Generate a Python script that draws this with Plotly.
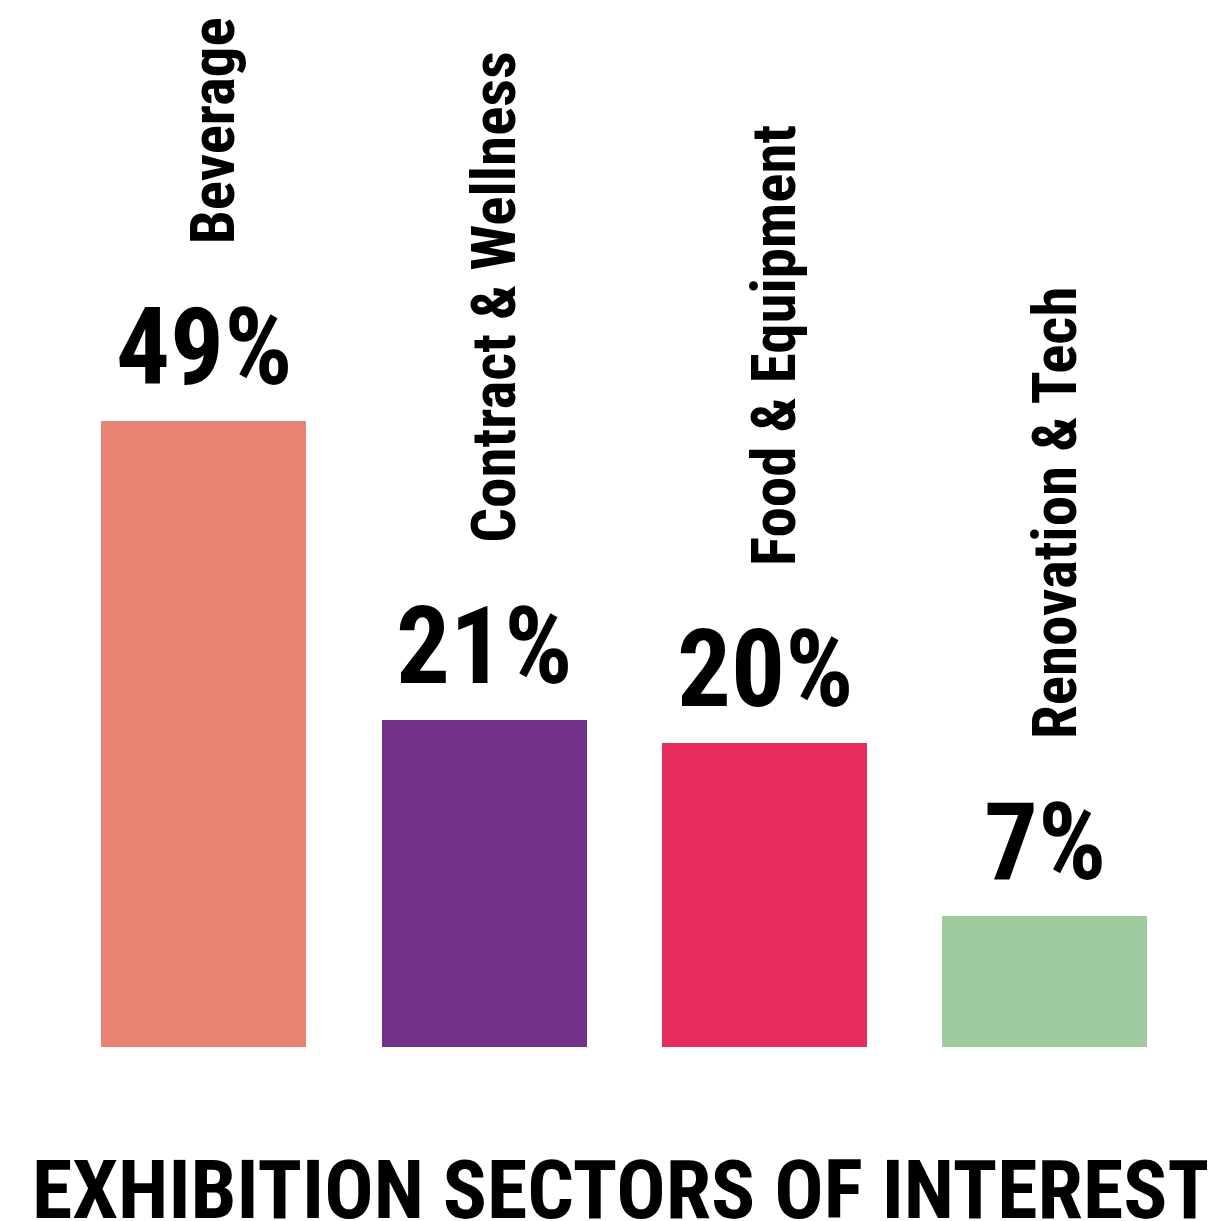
import plotly.graph_objects as go

categories = ["Beverage", "Contract & Wellness", "Food & Equipment", "Renovation & Tech"]
share_pct = [49, 21, 20, 7]
# drawn bar lengths (the infographic is not drawn to scale)
bar_height = [49, 25.6, 23.8, 10.25]
bar_colors = ["#E88374", "#723189", "#E72D5E", "#9ECC9E"]
title_text = "EXHIBITION SECTORS OF INTEREST"

FONT = "Roboto Condensed, Open Sans Condensed, DejaVu Sans Condensed, sans-serif"

x_idx = list(range(len(categories)))

fig = go.Figure()
fig.add_trace(go.Bar(
    x=x_idx, y=bar_height, width=0.731,
    marker=dict(color=bar_colors, line=dict(width=0)),
    hoverinfo="skip", showlegend=False,
))

annotations = []
for i, (cat, pct, h) in enumerate(zip(categories, share_pct, bar_height)):
    annotations.append(dict(
        x=i, y=h, xref="x", yref="y", text=f"<b>{pct}%</b>",
        showarrow=False, xanchor="center", yanchor="bottom", yshift=9,
        font=dict(family=FONT, size=107, color="#000000"),
    ))
    annotations.append(dict(
        x=i, y=h, xref="x", yref="y", text=f"<b>{cat}</b>",
        showarrow=False, xanchor="center", yanchor="bottom", textangle=-90,
        yshift=175, xshift=10,
        font=dict(family=FONT, size=61, color="#000000"),
    ))
annotations.append(dict(
    x=614 / 1207, y=0, xref="paper", yref="paper",
    text=f"<b>{title_text}</b>", showarrow=False,
    xanchor="center", yanchor="top", yshift=-93,
    font=dict(family=FONT, size=82, color="#000000"),
))

fig.update_layout(
    width=1207, height=1213,
    margin=dict(l=0, r=0, t=0, b=174, pad=0),
    paper_bgcolor="#ffffff", plot_bgcolor="#ffffff",
    xaxis=dict(range=[-0.699, 3.607], visible=False, fixedrange=True),
    yaxis=dict(range=[0, 81.32], visible=False, fixedrange=True),
    annotations=annotations,
    bargap=0,
)

fig.write_html("out.html", config={"displayModeBar": False})
